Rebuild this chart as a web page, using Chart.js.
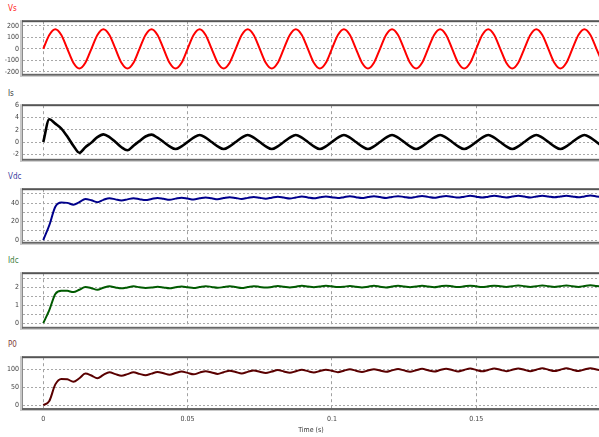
<!DOCTYPE html>
<html><head><meta charset="utf-8">
<script src="https://cdn.jsdelivr.net/npm/chart.js@4"></script>
<style>
html,body{margin:0;padding:0;background:#fff;width:599px;height:437px;overflow:hidden;}
canvas{position:absolute;left:0;}
.lbl{position:absolute;left:8px;font:8px 'Liberation Sans Narrow','DejaVu Sans Condensed',sans-serif;line-height:8px;}
</style></head>
<body>
<div class="lbl" style="top:5px;color:#ff2020">Vs</div>
<div class="lbl" style="top:90px;color:#404040">Is</div>
<div class="lbl" style="top:173px;color:#4040a0">Vdc</div>
<div class="lbl" style="top:257px;color:#408040">Idc</div>
<div class="lbl" style="top:341px;color:#804040">P0</div>
<canvas id="c1"></canvas><canvas id="c2"></canvas><canvas id="c3"></canvas><canvas id="c4"></canvas><canvas id="c5"></canvas>
<script>
// sampling instants (s)
const time = [0,0.00208,0.00417,0.00625,0.00833,0.01042,0.0125,0.01458,0.01667,0.01875,0.02083,0.02292,0.025,0.02708,0.02917,0.03125,0.03333,0.03542,0.0375,0.03958,0.04167,0.04375,0.04583,0.04792,0.05,0.05208,0.05417,0.05625,0.05833,0.06042,0.0625,0.06458,0.06667,0.06875,0.07083,0.07292,0.075,0.07708,0.07917,0.08125,0.08333,0.08542,0.0875,0.08958,0.09167,0.09375,0.09583,0.09792,0.1,0.10208,0.10417,0.10625,0.10833,0.11042,0.1125,0.11458,0.11667,0.11875,0.12083,0.12292,0.125,0.12708,0.12917,0.13125,0.13333,0.13542,0.1375,0.13958,0.14167,0.14375,0.14583,0.14792,0.15,0.15208,0.15417,0.15625,0.15833,0.16042,0.1625,0.16458,0.16667,0.16875,0.17083,0.17292,0.175,0.17708,0.17917,0.18125,0.18333,0.18542,0.1875,0.18958,0.19167,0.19375];
const Vs = [0,120,170,120,0,-120,-170,-120, 0,120,170,120,0,-120,-170,-120, 0,120,170,120,0,-120,-170,-120, 0,120,170,120,0,-120,-170,-120, 0,120,170,120,0,-120,-170,-120, 0,120,170,120,0,-120,-170,-120, 0,120,170,120,0,-120,-170,-120, 0,120,170,120,0,-120,-170,-120, 0,120,170,120,0,-120,-170,-120, 0,120,170,120,0,-120,-170,-120, 0,120,170,120,0,-120,-170,-120, 0,120,170,120,0,-120];
const Is = [0,3.7,3.0,2.2,0.9,-0.6,-1.75,-0.85,-0.1,0.8,1.25,0.8,0.0,-0.85,-1.35,-0.6,0.15,0.9,
  1.2,0.7,0,-0.7,-1.15,-0.7,0,0.7,
  1.15,0.7,0,-0.7,-1.15,-0.7,0,0.7, 1.15,0.7,0,-0.7,-1.15,-0.7,0,0.7, 1.15,0.7,0,-0.7,-1.15,-0.7,0,0.7, 1.15,0.7,0,-0.7,-1.15,-0.7,0,0.7,
  1.15,0.7,0,-0.7,-1.15,-0.7,0,0.7, 1.15,0.7,0,-0.7,-1.15,-0.7,0,0.7, 1.15,0.7,0,-0.7,-1.15,-0.7,0,0.7, 1.15,0.7,0,-0.7,-1.15,-0.7,0,0.7,
  1.15,0.7,0,-0.7];
const Vdc = [0,16,36,40.5,40.2,38.2,41,44.4,43,41,43.5,45.3,44,42.8,
  44.0,45.3,44.2,43.2,44.4,45.5,44.6,43.6,44.8,45.8,44.9,43.9,45.1,46.1,45.2,44.2,45.4,46.4,45.5,44.5,45.6,46.6,45.7,44.8,45.8,46.8,
  45.9,45.0,46.0,47.0,46.1,45.2,46.2,47.1,46.3,45.4,46.4,47.3,46.4,45.5,46.5,47.4,46.5,45.6,46.6,47.5,46.6,45.7,46.7,47.6,46.7,45.8,
  46.8,47.7,46.8,45.9,46.9,47.8,46.9,46.0,46.9,47.8,47.0,46.1,47.0,47.9,47.0,46.1,47.1,48.0,47.1,46.2,47.1,48.0,47.1,46.2,47.2,48.1,47.2,46.3];
const Idc = [0,0.72,1.62,1.8,1.79,1.72,1.85,2.0,1.94,1.85,1.96,2.04,1.98,1.93,
  1.98,2.04,1.99,1.95,
  1.97,2.02,1.98,1.93,1.99,2.03,1.99,1.95,2.0,2.05,2.01,1.96,
  2.0,2.04,2.0,1.95,2.0,2.05,2.01,1.97,2.01,2.06,2.02,1.98,2.02,2.07,2.03,1.99,2.03,2.07,2.04,2.0,
  2.02,2.06,2.02,1.98,2.02,2.07,2.02,1.98,2.03,2.07,2.03,1.99,2.03,2.07,2.03,1.99,2.04,2.08,2.04,2.0,2.04,2.08,2.04,2.0,
  2.04,2.08,2.05,2.01,2.05,2.09,2.05,2.01,2.05,2.09,2.05,2.01,2.05,2.09,2.05,2.01,2.06,2.1,2.06,2.02];
const P0 = [0,11.5,58.4,73.9,72.8,65.7,75.7,88.8,83.3,75.7,85.2,92.4,87.2,82.5,
  87.2,92.4,88.0,84.1,88.8,93.3,89.6,85.6,90.4,94.5,90.8,86.8,91.6,95.7,92.0,88.0,92.8,97.0,93.3,89.2,93.7,97.8,94.1,90.4,94.5,98.7,
  94.9,91.2,95.3,99.5,95.7,92.0,96.1,99.9,96.6,92.8,97.0,100.8,97.0,93.3,97.4,101.2,97.4,93.7,97.8,101.6,97.8,94.1,98.2,102.1,98.2,94.5,
  98.7,102.5,98.7,94.9,99.1,102.9,99.1,95.3,99.1,102.9,99.5,95.7,99.5,103.4,99.5,95.7,99.9,103.8,99.9,96.1,99.9,103.8,99.9,96.1,100.4,104.2,100.4,96.6];
const xTicks = [0,0.05,0.1,0.15];
const xTickLabels = ['0','0.05','0.1','0.15'];

const FONT = "'Liberation Sans Narrow','DejaVu Sans Condensed',sans-serif";
const frame = {
  id:'frame',
  afterDraw(c){
    const {ctx, chartArea:a} = c;
    ctx.save();
    ctx.fillStyle='#c8c8c8'; ctx.fillRect(a.left-3, a.top-1, 2, a.bottom-a.top+3);
    ctx.fillStyle='#8a8a8a'; ctx.fillRect(a.left-1, a.top-1, 1, a.bottom-a.top+2);
    ctx.fillStyle='#555'; ctx.fillRect(a.left-1, a.top-1, a.right-a.left+1, 2);
    ctx.fillStyle='#666'; ctx.fillRect(a.left-1, a.bottom-1, a.right-a.left+1, 2);
    ctx.fillStyle='#c8c8c8'; ctx.fillRect(a.left-3, a.bottom+1, a.right-a.left+3, 1);
    ctx.restore();
  }
};

function panel(id, top, h, vals, color, width, ymin, ymax, yTicks, yLabels, last){
  const cv = document.getElementById(id);
  const padT = 6, padB = last ? 0 : 6, xh = last ? 28 : 0;
  const H = h + padT + padB + xh;
  cv.width = 599; cv.height = H;
  cv.style.top = (top - padT) + 'px';
  cv.style.width = '599px'; cv.style.height = H + 'px';
  new Chart(cv, {
    type:'line',
    data:{datasets:[{data: time.map((t,i)=>({x:t,y:vals[i]})), borderColor:color, borderWidth:width,
      pointRadius:0, cubicInterpolationMode:'monotone', fill:false}]},
    options:{
      responsive:false, animation:false, maintainAspectRatio:false,
      layout:{padding:{top:padT,bottom:padB,left:0,right:0}},
      plugins:{legend:{display:false},tooltip:{enabled:false}},
      scales:{
        x:{type:'linear', min:-0.00703, max:0.19255,
          afterBuildTicks:a=>{a.ticks = xTicks.map(v=>({value:v}));},
          afterFit:s=>{s.height = xh;},
          border:{display:false, dash:[3,3]},
          grid:{drawTicks:false, color:'#a0a0a0', lineWidth:1},
          ticks:{display:last, padding:6, color:'#444', font:{family:FONT,size:7}, maxRotation:0,
            callback:(v,i)=>xTickLabels[i]},
          title:{display:last, text:'Time (s)', color:'#333', font:{family:FONT,size:7}, padding:{top:0,bottom:3}}
        },
        y:{min:ymin, max:ymax,
          afterBuildTicks:a=>{a.ticks = yTicks.map(v=>({value:v}));},
          afterFit:s=>{s.width = 23;},
          border:{display:false, dash:[2,2]},
          grid:{drawTicks:false, color:'#a8a8a8', lineWidth:1},
          ticks:{padding:4, color:'#444', font:{family:FONT,size:7},
            callback:(v,i)=>yLabels[i]}
        }
      }
    },
    plugins:[frame]
  });
}
const yVs=[-200,-100,0,100,200], yVsL=['-200','-100','0','100','200'];
const yIs=[-2,0,2,4,6], yIsL=['-2','0','2','4','6'];
const yVdc=[0,10,20,30,40,50], yVdcL=['0','','20','','40',''];
const yIdc=[0,0.5,1,1.5,2,2.5], yIdcL=['0','','1','','2',''];
const yP0=[0,50,100], yP0L=['0','50','100'];
panel('c1',19,58,Vs,'#ff0000',2,-225,240,yVs,yVsL,false);
panel('c2',103,59,Is,'#000000',2.6,-2.9,6,yIs,yIsL,false);
panel('c3',187,58,Vdc,'#00008b',2,-3,55,yVdc,yVdcL,false);
panel('c4',271,59,Idc,'#005a00',2,-0.26,2.77,yIdc,yIdcL,false);
panel('c5',355,54,P0,'#5a0000',2,-11,135,yP0,yP0L,true);
</script>
</body></html>
